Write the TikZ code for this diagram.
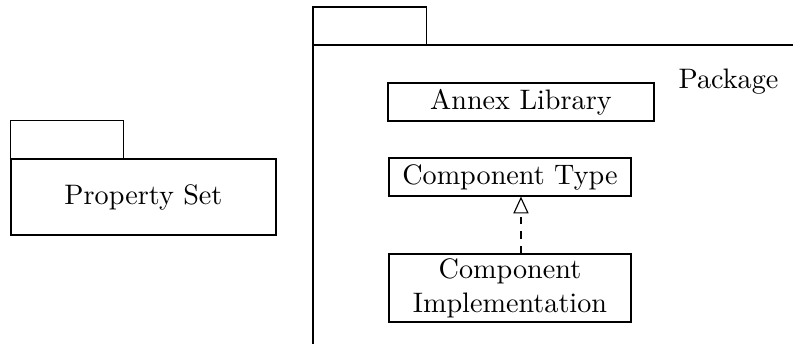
\documentclass[tikz,border=0pt]{standalone}
\usetikzlibrary{arrows.meta}
\begin{document}
\begin{tikzpicture}[
    box/.style={draw, align=center, minimum width=3.018cm, minimum height=0.474cm, inner sep=1pt},
    realize/.style={dash pattern=on 2.6pt off 2.6pt, -{Triangle[open, length=0.21cm, width=0.19cm]}}
]
    \useasboundingbox (0,0) rectangle (9.888,-4.289);
    \def\tabwidth{1.41}
    \def\tabheight{0.474}

    % Property set
    \node[draw, minimum width=3.304cm, minimum height=0.947cm] (propset) at (1.789,-2.456) {Property Set};
    \draw (propset.north west) rectangle ++(\tabwidth,\tabheight);

    % Package
    \draw (3.903,-0.087) rectangle ++(\tabwidth,-\tabheight);
    \draw (10,-0.561) -- (3.903,-0.561) -- (3.903,-4.4);
    \node at (9.084,-1.022) {Package};

    \node[box, minimum width=3.317cm] (annex) at (6.496,-1.272) {Annex Library};
    \node[box] (comptype) at (6.359,-2.207) {Component Type};
    \node[box, minimum height=0.848cm] (compimpl) at (6.359,-3.591) {Component\\Implementation};

    % realization
    \draw[realize] (compimpl.north -| annex) -- (comptype.south -| annex);
\end{tikzpicture}
\end{document}
